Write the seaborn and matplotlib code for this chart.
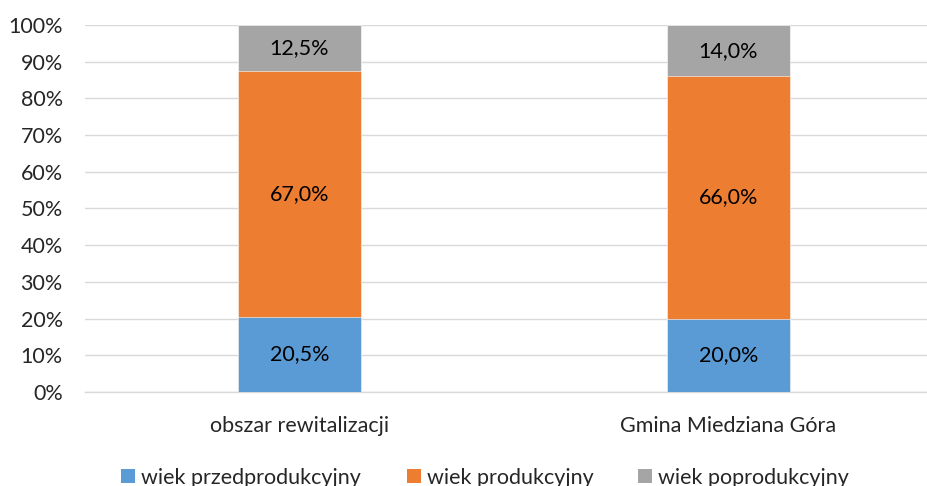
import matplotlib
matplotlib.use("Agg")
import matplotlib.pyplot as plt
import seaborn as sns
import pandas as pd
import numpy as np
from matplotlib.patches import Patch

categories = ["obszar rewitalizacji", "Gmina Miedziana Góra"]
series_names = ["wiek przedprodukcyjny", "wiek produkcyjny", "wiek poprodukcyjny"]
przed = [20.5, 20.0]
prod = [67.0, 66.0]
popr = [12.5, 14.0]
colors = ["#5B9BD5", "#ED7D31", "#A5A5A5"]
ytick_vals = [0, 10, 20, 30, 40, 50, 60, 70, 80, 90, 100]

sns.set_style("white")
plt.rcParams["font.family"] = ["Lato", "DejaVu Sans"]
FS = 15.5

fig = plt.figure(figsize=(9.28, 4.86), dpi=100)
ax = fig.add_axes([85 / 928, 1 - 392 / 486, 1 - 85 / 928, (392 - 25) / 486])

series = [przed, prod, popr]
cum = np.cumsum(np.array(series), axis=0)
df = pd.DataFrame({"cat": categories})
n = len(categories)
# draw from top layer down so lower layers cover
for i in reversed(range(3)):
    df["val"] = cum[i]
    sns.barplot(data=df, x="cat", y="val", color=colors[i], width=0.287,
                saturation=1, ax=ax, zorder=3, edgecolor="white", linewidth=0.4)

# labels
for i in range(3):
    bottoms = cum[i] - np.array(series[i])
    for j in range(n):
        mid = bottoms[j] + series[i][j] / 2
        ax.text(j, mid, f"{series[i][j]:.1f}%".replace(".", ","), ha="center",
                va="center", fontsize=FS, color="black", zorder=5)

ax.set_ylim(0, 100)
ax.set_xlim(-0.5, (928 - 299.5) / 429)
ax.set_yticks(ytick_vals)
ax.set_yticklabels([f"{v}%" for v in ytick_vals], fontsize=FS)
ax.set_xticks(range(n))
ax.set_xticklabels(categories, fontsize=FS)
ax.set_xlabel("")
ax.set_ylabel("")
ax.tick_params(axis="y", length=0, pad=16)
ax.tick_params(axis="x", length=0, pad=17.5)
ax.yaxis.grid(True, color="#D9D9D9", linewidth=1.0, zorder=0)
ax.set_axisbelow(True)
for s in ["top", "right", "left"]:
    ax.spines[s].set_visible(False)
ax.spines["bottom"].set_color("#D9D9D9")
ax.spines["bottom"].set_linewidth(1.0)

# legend: three entries placed like the original
xs = [121 / 928, 407 / 928, 638 / 928]
for i in range(3):
    h = Patch(facecolor=colors[i], edgecolor="none")
    fig.legend([h], [series_names[i]], loc="center left",
               bbox_to_anchor=(xs[i], 1 - 477.5 / 486), frameon=False,
               fontsize=FS, handlelength=0.65, handleheight=0.65,
               handletextpad=0.28, borderpad=0, borderaxespad=0)

fig.savefig("out.png", dpi=100)
